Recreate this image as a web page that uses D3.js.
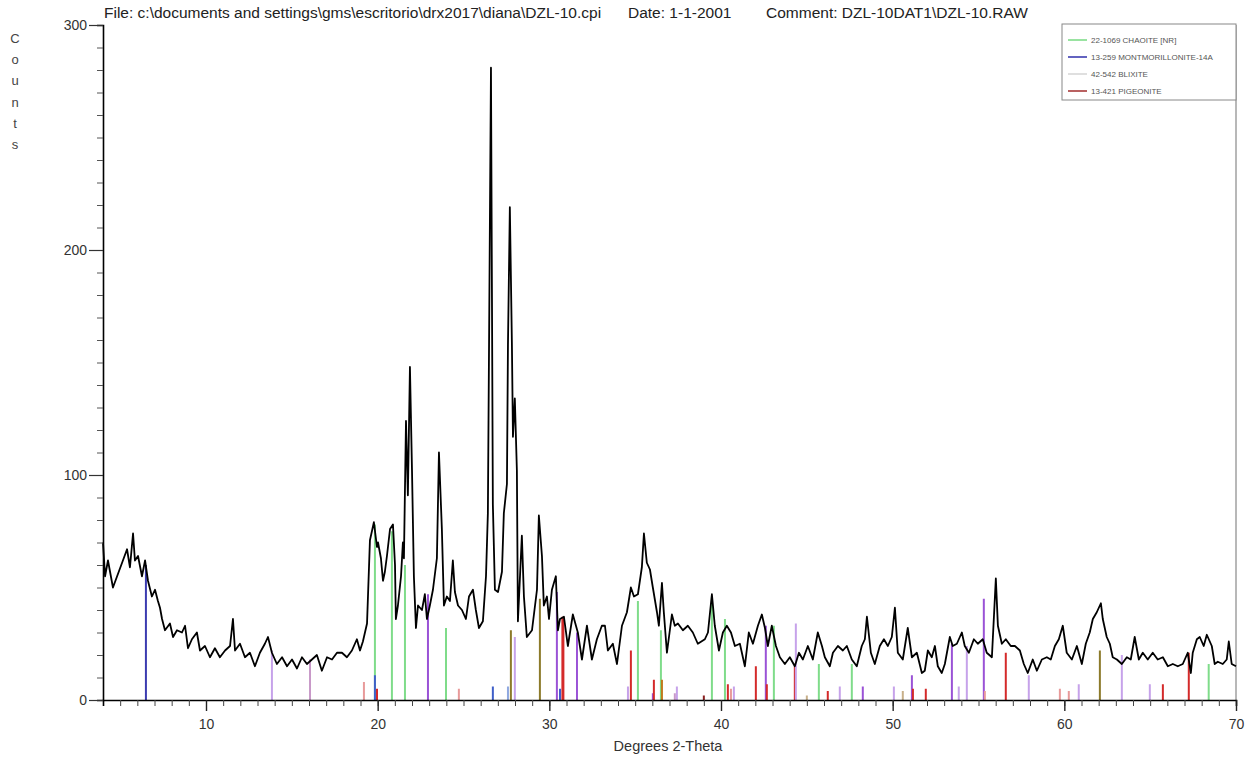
<!DOCTYPE html>
<html>
<head>
<meta charset="utf-8">
<script src="https://cdn.jsdelivr.net/npm/d3@7"></script>
<style>
  html, body { margin: 0; padding: 0; background: #fff; }
  svg { display: block; font-family: "Liberation Sans", Arial, sans-serif; }
</style>
</head>
<body>
<svg id="chart" width="1257" height="757"></svg>
<script>
// Scan: 2-theta positions (degrees) and measured counts
const twoTheta = [
  4.00,4.12,4.29,4.58,4.87,5.16,5.40,5.57,5.75,5.86,6.04,6.27,6.45,6.62,6.85,7.03,7.20,7.32,7.44,7.61,
  7.90,8.08,8.31,8.60,8.78,8.95,9.18,9.47,9.65,9.94,10.23,10.52,10.81,11.11,11.40,11.57,11.69,11.98,12.27,12.56,
  12.85,13.14,13.43,13.61,13.84,14.13,14.43,14.72,15.01,15.30,15.59,15.88,16.17,16.46,16.75,17.05,17.34,17.63,17.92,18.21,
  18.50,18.79,18.97,19.14,19.38,19.55,19.78,19.96,
  20.02,20.19,20.31,20.42,20.54,20.72,20.89,21.01,21.06,21.18,21.36,21.47,21.53,21.65,21.76,21.88,22.00,22.11,22.23,22.35,
  22.58,22.75,22.87,23.04,23.22,23.45,23.57,23.74,23.86,24.03,24.21,24.38,24.50,24.68,24.91,25.14,25.32,25.55,25.72,25.90,
  26.13,26.31,26.42,26.60,26.71,26.83,27.01,27.24,27.35,27.53,27.59,27.70,27.82,27.88,27.99,28.11,28.17,28.40,28.52,28.69,
  28.99,29.28,29.39,29.57,29.68,29.86,29.98,30.15,30.38,30.50,
  30.62,30.85,31.08,31.37,31.66,31.90,32.19,32.48,32.77,33.06,33.24,33.41,33.70,33.94,34.23,34.52,34.75,34.93,35.16,35.39,
  35.51,35.68,35.86,36.03,36.27,36.38,36.56,36.67,36.85,37.14,37.31,37.49,37.78,38.07,38.36,38.65,39.06,39.24,39.47,39.64,
  39.88,40.11,40.34,40.58,40.81,41.10,41.39,41.62,41.86,42.15,42.38,42.56,42.73,42.96,43.20,43.43,43.72,44.01,44.30,44.54,
  44.77,45.06,45.35,45.64,45.88,46.05,46.34,46.52,46.81,47.10,47.33,47.62,47.91,48.20,48.38,48.50,48.73,48.96,49.25,49.49,
  49.72,49.95,50.13,50.30,50.59,50.88,51.12,51.41,51.70,51.87,52.05,52.28,52.46,52.63,52.86,53.04,53.33,53.50,53.74,54.03,
  54.20,54.44,54.73,54.96,55.25,55.48,55.78,56.01,56.13,56.36,56.59,56.88,57.12,57.41,57.64,57.87,58.16,58.40,58.69,58.98,
  59.21,59.45,59.68,59.91,60.14,60.44,60.73,61.02,61.25,61.48,61.66,61.89,62.13,62.24,62.47,62.65,62.82,63.06,63.35,63.64,
  63.87,64.10,64.34,64.57,64.86,65.15,65.44,65.74,66.03,66.32,66.61,66.90,67.19,67.37,67.48,67.72,67.89,68.12,68.30,68.59,
  68.76,68.94,69.23,69.46,69.58,69.75,70.00
];
const counts = [
  70,55,62,50,56,62,67,59,74,62,64,55,62,53,46,49,44,41,36,31,
  34,28,31,30,33,23,27,30,22,24,19,23,19,22,24,36,22,25,19,21,
  15,21,25,28,21,16,19,15,18,14,19,16,18,20,13,19,18,21,21,19,
  22,27,22,26,34,71,79,68,
  70,63,53,57,64,76,78,60,36,42,55,70,63,124,91,148,102,55,32,42,
  40,47,36,42,49,63,110,76,42,46,44,62,48,42,40,36,46,49,40,32,
  35,55,83,281,87,49,48,57,83,96,158,219,158,117,134,102,35,73,46,28,
  31,49,82,64,42,46,36,49,55,31,
  36,37,24,38,30,18,33,18,27,33,33,22,25,16,33,39,50,46,47,59,
  74,61,58,50,39,33,52,39,21,38,33,34,31,33,30,25,27,30,47,33,
  22,30,33,30,24,25,15,30,25,33,38,32,24,33,24,19,16,19,15,21,
  18,24,18,30,24,19,15,21,24,22,24,18,15,24,27,37,21,16,24,27,
  24,28,41,21,18,32,19,21,12,13,22,19,24,15,12,16,28,24,25,30,
  24,21,27,25,27,21,19,54,33,25,27,24,24,22,16,12,18,13,18,19,
  18,24,27,33,21,18,24,16,25,30,36,39,43,36,28,25,19,18,16,19,
  18,28,18,21,18,21,18,19,15,16,15,16,21,12,21,27,28,24,29,24,
  16,17,16,18,26,16,15
];

// Reference pattern sticks: position (2-theta), height (counts scale), phase key
const stickPos = [
  6.50,13.84,16.06,19.20,19.84,19.84,19.96,20.83,21.59,22.93,23.98,24.73,26.71,27.59,27.76,27.99,29.45,30.44,30.62,30.79,
  31.61,34.58,34.75,35.16,36.03,36.09,36.50,36.56,37.31,37.43,39.00,39.47,40.23,40.40,40.58,40.75,42.03,42.61,42.67,43.08,
  44.30,44.36,45.00,45.70,46.22,46.92,47.62,48.26,50.07,50.59,51.12,51.18,51.93,53.45,53.85,54.32,55.31,55.37,56.59,57.93,
  59.74,60.26,60.84,62.07,63.35,64.98,65.74,67.25,68.41
];
const stickHeight = [
  60,22,18,8,78,11,5,75,60,47,32,5,6,6,31,28,45,48,5,37,
  30,6,22,44,3,9,31,9,3,6,2,46,36,7,5,6,15,33,7,33,
  15,34,2,16,4,6,16,6,6,4,11,5,5,25,6,24,45,4,21,11,
  5,4,7,22,20,7,7,21,16
];
const stickPhase = [
  "mont","lav","mauve","pink","chaoite","blue","red","chaoite","chaoite","purple","chaoite","pink","blue","ltblue","olive","lav","olive","purple","blue","red",
  "purple","lav","red","chaoite","purple","red","chaoite","brown","mauve","lav","dkred","chaoite","chaoite","red","pink","lav","red","purple","red","chaoite",
  "red","lav","tan","chaoite","red","lav","chaoite","purple","lav","tan","purple","red","red","purple","lav","lav","purple","pink","red","lav",
  "pink","pink","lav","olive","lav","lav","red","red","chaoite"
];

// Legend entries (card number + phase name)
const legendLabels = ["22-1069 CHAOITE [NR]", "13-259 MONTMORILLONITE-14A", "42-542 BLIXITE", "13-421 PIGEONITE"];
const legendKeys = ["chaoite", "mont", "blix", "pig"];

const xTicksMajor = [10, 20, 30, 40, 50, 60, 70];
const yTicksMajor = [0, 100, 200, 300];

const phaseColor = {
  chaoite: "#7fdc8a",
  mont: "#3b3bb0",
  blix: "#d8d8d8",
  pig: "#a83a3a",
  blue: "#3f5fc8",
  ltblue: "#8fa8e0",
  purple: "#9a52d6",
  lav: "#c6a2ea",
  mauve: "#c898c8",
  pink: "#e89a9a",
  red: "#d42a2a",
  dkred: "#8a2020",
  olive: "#8c7a2a",
  brown: "#c07a1c",
  tan: "#c8b08a"
};

const svg = d3.select("#chart");
const x = d3.scaleLinear().domain([4, 70]).range([103, 1236]);
const y = d3.scaleLinear().domain([0, 300]).range([700, 25]);

// Title line
const title = svg.append("g").attr("fill", "#222").attr("font-size", 15.5);
title.append("text").attr("x", 104).attr("y", 18)
  .text("File: c:\\documents and settings\\gms\\escritorio\\drx2017\\diana\\DZL-10.cpi");
title.append("text").attr("x", 628).attr("y", 18).text("Date: 1-1-2001");
title.append("text").attr("x", 766).attr("y", 18).text("Comment: DZL-10DAT1\\DZL-10.RAW");

// Right frame line
svg.append("line")
  .attr("x1", x(70)).attr("x2", x(70)).attr("y1", y(300)).attr("y2", y(0))
  .attr("stroke", "#a0a0a0").attr("stroke-width", 1.5);

// Reference sticks
svg.append("g").selectAll("line")
  .data(stickPos.map((p, i) => ({ p, h: stickHeight[i], k: stickPhase[i] })))
  .join("line")
  .attr("x1", d => x(d.p)).attr("x2", d => x(d.p))
  .attr("y1", y(0)).attr("y2", d => y(d.h))
  .attr("stroke", d => phaseColor[d.k])
  .attr("stroke-width", d => d.k === "red" && d.h > 30 ? 3 : 2);

// Diffraction trace
const pts = twoTheta.map((t, i) => [t, counts[i]]);
svg.append("path")
  .datum(pts)
  .attr("fill", "none")
  .attr("stroke", "#000")
  .attr("stroke-width", 1.8)
  .attr("stroke-linejoin", "round")
  .attr("d", d3.line().x(d => x(d[0])).y(d => y(d[1])));

// X axis: minor ticks every degree, labelled ticks every ten
const xMinor = svg.append("g").attr("transform", `translate(0,${y(0)})`)
  .call(d3.axisBottom(x).tickValues(d3.range(5, 71)).tickSize(6).tickFormat(""));
xMinor.select(".domain").attr("stroke", "#000").attr("stroke-width", 1.6);
xMinor.selectAll(".tick line").attr("stroke", "#444");
const xMajor = svg.append("g").attr("transform", `translate(0,${y(0)})`)
  .call(d3.axisBottom(x).tickValues(xTicksMajor).tickSize(11).tickPadding(8).tickFormat(d3.format("d")));
xMajor.select(".domain").remove();
xMajor.selectAll(".tick line").attr("stroke", "#222").attr("stroke-width", 1.4);
xMajor.selectAll("text").attr("font-size", 14).attr("fill", "#333")
  .attr("font-family", "Liberation Sans, Arial, sans-serif");

// Y axis: minor ticks every 10 counts, labelled every 100
const yMinor = svg.append("g").attr("transform", `translate(${x(4)},0)`)
  .call(d3.axisLeft(y).tickValues(d3.range(10, 300, 10)).tickSize(6).tickFormat(""));
yMinor.select(".domain").attr("stroke", "#000").attr("stroke-width", 1.6);
yMinor.selectAll(".tick line").attr("stroke", "#555");
const yMajor = svg.append("g").attr("transform", `translate(${x(4)},0)`)
  .call(d3.axisLeft(y).tickValues(yTicksMajor).tickSize(14).tickPadding(2).tickFormat(d3.format("d")));
yMajor.select(".domain").remove();
yMajor.selectAll(".tick line").attr("stroke", "#333").attr("stroke-width", 1.2);
yMajor.selectAll("text").attr("font-size", 14).attr("fill", "#333")
  .attr("font-family", "Liberation Sans, Arial, sans-serif");

// Axis titles
svg.append("text").attr("x", 668).attr("y", 751).attr("text-anchor", "middle")
  .attr("font-size", 14.5).attr("fill", "#333").text("Degrees 2-Theta");
svg.append("g").attr("fill", "#444").attr("font-size", 13).attr("text-anchor", "middle")
  .selectAll("text").data("Counts".split(""))
  .join("text").attr("x", 15).attr("y", (d, i) => 43 + i * 21.2).text(d => d);

// Legend
const lg = svg.append("g");
lg.append("rect").attr("x", 1062).attr("y", 24).attr("width", 174).attr("height", 76)
  .attr("fill", "#fff").attr("stroke", "#888").attr("stroke-width", 1);
legendKeys.forEach((k, i) => {
  const ly = 40 + i * 17;
  lg.append("line").attr("x1", 1068).attr("x2", 1087).attr("y1", ly).attr("y2", ly)
    .attr("stroke", phaseColor[k]).attr("stroke-width", 1.6);
  lg.append("text").attr("x", 1091).attr("y", ly + 3).attr("font-size", 8)
    .attr("fill", "#555").text(legendLabels[i]);
});
</script>
</body>
</html>
